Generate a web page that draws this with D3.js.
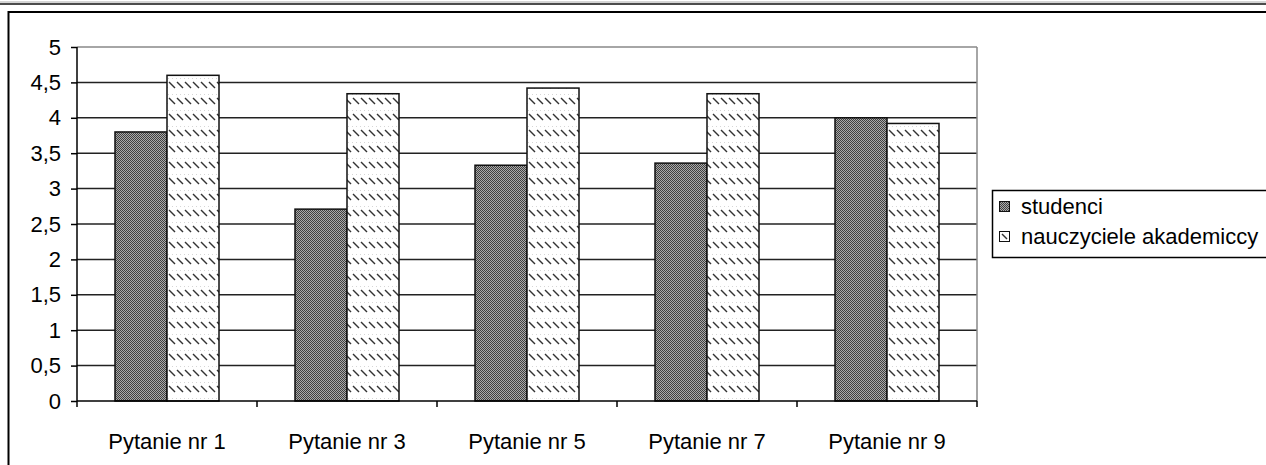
<!DOCTYPE html>
<html>
<head>
<meta charset="utf-8">
<script src="https://cdn.jsdelivr.net/npm/d3@7"></script>
<style>
  body { margin: 0; background: #fff; }
  svg { display: block; font-family: Arial, "Liberation Sans", sans-serif; }
</style>
</head>
<body>
<div id="chart"></div>
<script>
// data
const categories = ["Pytanie nr 1", "Pytanie nr 3", "Pytanie nr 5", "Pytanie nr 7", "Pytanie nr 9"];
const seriesNames = ["studenci", "nauczyciele akademiccy"];
const studenci = [3.8, 2.71, 3.33, 3.36, 4.0];
const nauczyciele = [4.6, 4.34, 4.42, 4.34, 3.92];
const yTicks = [0, 0.5, 1, 1.5, 2, 2.5, 3, 3.5, 4, 4.5, 5];

const width = 1266, height = 465;
const plot = { left: 77, right: 977, top: 47, bottom: 401 };
const fontSize = "22px";
const fontFam = "Arial, 'Liberation Sans', sans-serif";

const svg = d3.select("#chart").append("svg")
    .attr("width", width)
    .attr("height", height);

// patterns
const defs = svg.append("defs");
const p1 = defs.append("pattern")
    .attr("id", "pat-stud")
    .attr("patternUnits", "userSpaceOnUse")
    .attr("width", 2).attr("height", 2);
p1.append("rect").attr("width", 2).attr("height", 2).attr("fill", "#aaa");
p1.append("rect").attr("width", 1).attr("height", 1).attr("fill", "#404040");
p1.append("rect").attr("x", 1).attr("y", 1).attr("width", 1).attr("height", 1).attr("fill", "#404040");

const p2 = defs.append("pattern")
    .attr("id", "pat-naucz")
    .attr("patternUnits", "userSpaceOnUse")
    .attr("width", 8).attr("height", 16);
p2.append("rect").attr("width", 8).attr("height", 16).attr("fill", "#fff");
p2.append("line")
    .attr("x1", 1).attr("y1", 2).attr("x2", 7).attr("y2", 8)
    .attr("stroke", "#333").attr("stroke-width", 1.4);
p2.append("line")
    .attr("x1", 0).attr("y1", 14.5).attr("x2", 8).attr("y2", 14.5)
    .attr("stroke", "#bbb").attr("stroke-width", 0.6)
    .attr("stroke-dasharray", "1,3");

const fills = ["url(#pat-stud)", "url(#pat-naucz)"];

// frame lines (top table rule + chart border)
svg.append("line").attr("x1", 0).attr("x2", width).attr("y1", 2).attr("y2", 2)
    .attr("stroke", "#aaa").attr("stroke-width", 1);
svg.append("line").attr("x1", 0).attr("x2", width).attr("y1", 4).attr("y2", 4)
    .attr("stroke", "#111").attr("stroke-width", 1.5);
svg.append("path")
    .attr("d", `M8.5,${height} V12 H${width}`)
    .attr("fill", "none")
    .attr("stroke", "#000")
    .attr("stroke-width", 2);

// scales
const x = d3.scaleBand()
    .domain(categories)
    .range([plot.left, plot.right]);

const y = d3.scaleLinear()
    .domain([0, 5])
    .range([plot.bottom, plot.top]);

const barW = 52;

// grid lines
svg.append("g").selectAll("line")
    .data(yTicks.filter(d => d > 0))
    .enter().append("line")
    .attr("x1", plot.left).attr("x2", plot.right)
    .attr("y1", d => y(d)).attr("y2", d => y(d))
    .attr("stroke", d => d === 5 ? "#888" : "#222")
    .attr("stroke-width", 1.5);

// right plot border
svg.append("line")
    .attr("x1", plot.right).attr("x2", plot.right)
    .attr("y1", plot.top).attr("y2", plot.bottom)
    .attr("stroke", "#888").attr("stroke-width", 1.5);

// bars
const rows = categories.map((c, i) => ({ cat: c, vals: [studenci[i], nauczyciele[i]] }));
rows.forEach(r => {
    r.vals.forEach((v, k) => {
        svg.append("rect")
            .attr("x", x(r.cat) + x.bandwidth() / 2 - barW + k * barW)
            .attr("y", y(v))
            .attr("width", barW)
            .attr("height", y(0) - y(v))
            .attr("fill", fills[k])
            .attr("stroke", "#111")
            .attr("stroke-width", 1.5);
    });
});

// Y axis
const yAxis = svg.append("g")
    .attr("transform", `translate(${plot.left},0)`)
    .call(d3.axisLeft(y).tickValues(yTicks).tickSize(6).tickPadding(10)
        .tickFormat(d => String(d).replace(".", ",")));
yAxis.selectAll(".tick text").attr("font-size", fontSize).attr("fill", "#000").attr("font-family", fontFam);
yAxis.selectAll(".tick line").attr("stroke", "#000").attr("stroke-width", 1.5);
yAxis.select(".domain").attr("d", `M0,${plot.top}V${plot.bottom}`).attr("stroke", "#000").attr("stroke-width", 1.5);

// X axis
const xAxis = svg.append("g")
    .attr("transform", `translate(0,${plot.bottom})`)
    .call(d3.axisBottom(x).tickSize(0).tickPadding(32));
xAxis.selectAll(".tick text").attr("font-size", fontSize).attr("fill", "#000").attr("font-family", fontFam);
xAxis.select(".domain").attr("d", `M${plot.left},0H${plot.right}`).attr("stroke", "#000").attr("stroke-width", 1.5);
// category boundary ticks
xAxis.selectAll("line.bound")
    .data(categories.concat(["end"]))
    .enter().append("line")
    .attr("class", "bound")
    .attr("x1", (d, i) => i < categories.length ? x(d) : plot.right)
    .attr("x2", (d, i) => i < categories.length ? x(d) : plot.right)
    .attr("y1", 0).attr("y2", 6)
    .attr("stroke", "#000").attr("stroke-width", 1.5);

// legend
const lg = svg.append("g");
lg.append("rect")
    .attr("x", 992.5).attr("y", 190.5)
    .attr("width", 320).attr("height", 67)
    .attr("fill", "#fff").attr("stroke", "#000").attr("stroke-width", 1.5);
seriesNames.forEach((name, k) => {
    const sy = 201.5 + k * 30;
    lg.append("rect")
        .attr("x", 999.5).attr("y", sy)
        .attr("width", 10).attr("height", 10)
        .attr("fill", k === 0 ? fills[0] : "#fff")
        .attr("stroke", "#111").attr("stroke-width", 1);
    if (k === 1) {
        lg.append("line")
            .attr("x1", 1002).attr("y1", sy + 2.5)
            .attr("x2", 1007).attr("y2", sy + 7.5)
            .attr("stroke", "#333").attr("stroke-width", 1.4);
    }
    lg.append("text")
        .attr("x", 1021).attr("y", 214 + k * 30)
        .attr("font-size", fontSize)
        .attr("font-family", fontFam)
        .attr("fill", "#000")
        .text(name);
});
</script>
</body>
</html>
